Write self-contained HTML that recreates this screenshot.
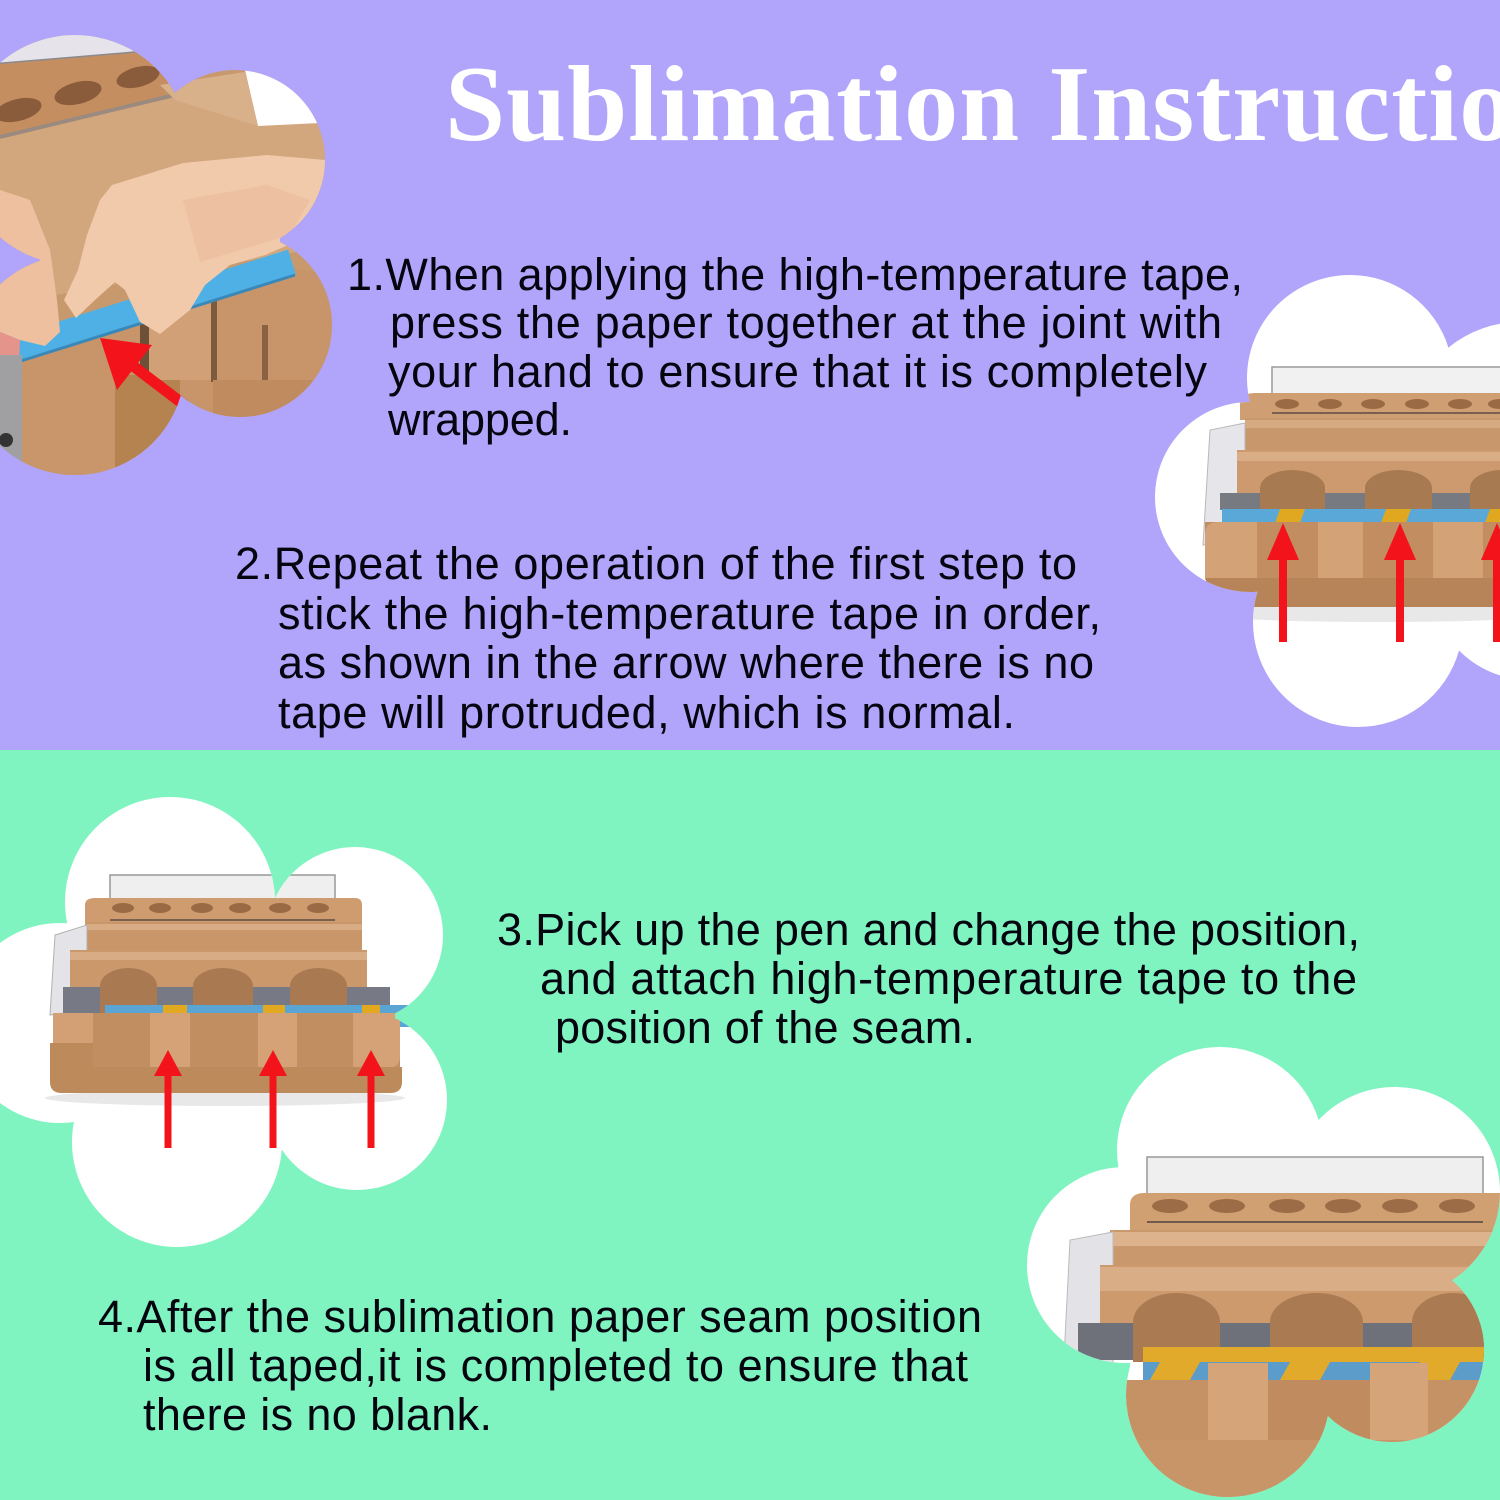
<!DOCTYPE html>
<html><head><meta charset="utf-8"><style>
html,body{margin:0;padding:0;width:1500px;height:1500px;overflow:hidden;background:#b1a4fb;}
svg{display:block}
.t{font-family:"Liberation Sans",Arial,sans-serif;font-size:45px;fill:#05050f;}
.title{font-family:"Liberation Serif","Times New Roman",serif;font-weight:bold;font-size:108px;fill:#ffffff;letter-spacing:1px;}
</style></head><body>
<svg width="1500" height="1500" viewBox="0 0 1500 1500" xmlns="http://www.w3.org/2000/svg">
<defs>
  <clipPath id="c1">
    <circle cx="75" cy="150" r="115"/>
    <circle cx="235" cy="160" r="90"/>
    <circle cx="240" cy="325" r="92"/>
    <circle cx="75" cy="365" r="110"/>
    <rect x="40" y="140" width="240" height="250"/>
  </clipPath>
  <clipPath id="c2">
    <circle cx="1350" cy="378" r="103"/>
    <circle cx="1520" cy="435" r="113"/>
    <circle cx="1250" cy="497" r="95"/>
    <circle cx="1358" cy="622" r="105"/>
    <circle cx="1530" cy="580" r="100"/>
    <rect x="1260" y="400" width="240" height="215"/>
  </clipPath>
  <clipPath id="c3">
    <circle cx="170" cy="902" r="105"/>
    <circle cx="355" cy="935" r="88"/>
    <circle cx="60" cy="1023" r="100"/>
    <circle cx="177" cy="1142" r="105"/>
    <circle cx="357" cy="1100" r="90"/>
    <rect x="75" y="930" width="320" height="200"/>
  </clipPath>
  <clipPath id="c4">
    <circle cx="1220" cy="1150" r="103"/>
    <circle cx="1395" cy="1192" r="105"/>
    <circle cx="1125" cy="1265" r="98"/>
    <circle cx="1228" cy="1395" r="102"/>
    <circle cx="1392" cy="1350" r="92"/>
    <rect x="1130" y="1190" width="265" height="205"/>
  </clipPath>
</defs>

<!-- backgrounds -->
<rect x="0" y="0" width="1500" height="750" fill="#b1a4fb"/>
<rect x="0" y="750" width="1500" height="750" fill="#80f4c0"/>

<!-- title -->
<text class="title" x="445" y="140">Sublimation Instructions</text>

<!-- ============ Cloud 1 (hands photo) ============ -->
<g clip-path="url(#c1)">
  <rect x="-50" y="20" width="400" height="470" fill="#c9996e"/>
  <polygon points="0,20 175,20 168,50 0,64" fill="#e6e4ea"/>
  <line x1="0" y1="64" x2="168" y2="50" stroke="#8a8a90" stroke-width="3"/>
  <polygon points="0,64 168,50 175,95 0,137" fill="#c48e61"/>
  <g fill="#8a5c3c">
    <ellipse cx="18" cy="110" rx="24" ry="11" transform="rotate(-14 18 110)"/>
    <ellipse cx="78" cy="93" rx="24" ry="11" transform="rotate(-14 78 93)"/>
    <ellipse cx="138" cy="77" rx="22" ry="10" transform="rotate(-14 138 77)"/>
  </g>
  <line x1="0" y1="137" x2="175" y2="95" stroke="#9a8a80" stroke-width="4"/>
  <polygon points="0,139 175,97 330,118 335,245 0,305" fill="#d3a77d"/>
  <polygon points="245,70 340,70 340,122 258,126" fill="#ffffff"/>
  <polygon points="160,85 245,72 258,126 175,100" fill="#d8b08a"/>
  <polygon points="0,360 290,268 340,275 340,490 0,490" fill="#c8956a"/>
  <rect x="113" y="375" width="67" height="110" fill="#b5834f"/>
  <rect x="147" y="290" width="66" height="90" fill="#d2a077"/>
  <rect x="140" y="292" width="9" height="85" fill="#6e5038"/>
  <rect x="211" y="300" width="6" height="82" fill="#7e5a3c"/>
  <rect x="262" y="325" width="6" height="58" fill="#8a6242"/>
  <rect x="213" y="380" width="130" height="100" fill="#c08b5e"/>
  <rect x="0" y="380" width="115" height="100" fill="#c9966b"/>
  <line x1="5" y1="352" x2="292" y2="262" stroke="#4fb0e6" stroke-width="26"/>
  <line x1="8" y1="365" x2="295" y2="275" stroke="#3a88b8" stroke-width="3"/>
  <polygon points="0,190 30,200 50,250 57,300 60,332 45,346 20,340 0,332" fill="#eec0a0"/>
  <polygon points="0,332 20,340 18,385 0,392" fill="#e4948a"/>
  <polygon points="100,200 112,185 183,163 267,155 325,160 325,210 300,240 265,255 230,265 205,285 190,310 160,334 140,322 125,290 115,282 95,300 76,318 64,300 78,270 87,235" fill="#f1caac"/>
  <polygon points="183,200 267,185 310,200 290,235 240,250 200,262" fill="#ecc0a0"/>
  <rect x="0" y="355" width="22" height="110" fill="#a0a0a2"/>
  <circle cx="6" cy="440" r="7" fill="#333"/>
  <line x1="250" y1="455" x2="128" y2="362" stroke="#f2141a" stroke-width="11"/>
  <polygon points="100,338 117,390 152,345" fill="#f2141a"/>
</g>

<!-- ============ Cloud 2 ============ -->
<g clip-path="url(#c2)">
  <rect x="1100" y="260" width="400" height="480" fill="#ffffff"/>
  <ellipse cx="1380" cy="612" rx="190" ry="10" fill="#e8e8e8"/>
  <rect x="1272" y="367" width="240" height="46" fill="#f1f1f1" stroke="#9a9a9a" stroke-width="1.5"/>
  <path d="M1240,420 L1240,405 Q1240,393 1255,393 L1500,393 L1500,420 Z" fill="#cf9e73"/>
  <g fill="#9a6a45">
    <ellipse cx="1287" cy="404" rx="12" ry="5"/>
    <ellipse cx="1330" cy="404" rx="12" ry="5"/>
    <ellipse cx="1373" cy="404" rx="12" ry="5"/>
    <ellipse cx="1417" cy="404" rx="12" ry="5"/>
    <ellipse cx="1460" cy="404" rx="12" ry="5"/>
    <ellipse cx="1500" cy="404" rx="12" ry="5"/>
  </g>
  <line x1="1272" y1="413" x2="1500" y2="413" stroke="#7a6050" stroke-width="2"/>
  <rect x="1245" y="418" width="255" height="32" fill="#c8976b"/>
  <rect x="1245" y="420" width="255" height="8" fill="#d6ab83"/>
  <polygon points="1203,545 1210,430 1245,423 1245,540" fill="#e6e6ea" stroke="#b8b8bc" stroke-width="1"/>
  <rect x="1237" y="450" width="263" height="60" fill="#cc9a6e"/>
  <rect x="1237" y="452" width="263" height="9" fill="#d9ae86"/>
  <rect x="1220" y="493" width="280" height="17" fill="#787a82"/>
  <g fill="#a87a51">
    <path d="M1260,510 L1260,488 A32.5,18 0 0 1 1325,488 L1325,510 Z"/>
    <path d="M1365,510 L1365,488 A33.5,18 0 0 1 1432,488 L1432,510 Z"/>
    <path d="M1470,510 L1470,488 A32,18 0 0 1 1534,488 L1534,510 Z"/>
  </g>
  <rect x="1222" y="509" width="278" height="14" fill="#5aa8d8"/>
  <polygon points="1280,509 1305,509 1300,523 1275,523" fill="#e0a820"/>
  <polygon points="1386,509 1411,509 1406,523 1381,523" fill="#e0a820"/>
  <polygon points="1490,509 1510,509 1505,523 1485,523" fill="#e0a820"/>
  <rect x="1205" y="522" width="295" height="58" fill="#c18d61"/>
  <path d="M1205,580 L1205,535 Q1205,522 1218,522 L1257,522 L1257,580 Z" fill="#d3a276"/>
  <rect x="1318" y="522" width="45" height="58" fill="#d3a276"/>
  <rect x="1433" y="522" width="50" height="58" fill="#d3a276"/>
  <path d="M1206,578 L1500,578 L1500,607 L1222,607 Q1208,607 1206,595 Z" fill="#b7845a"/>
  <g fill="#f2141a">
    <rect x="1279" y="555" width="8" height="87"/>
    <polygon points="1283,523 1267,560 1299,560"/>
    <rect x="1396" y="555" width="8" height="87"/>
    <polygon points="1400,523 1384,560 1416,560"/>
    <rect x="1493" y="555" width="8" height="87"/>
    <polygon points="1497,523 1481,560 1513,560"/>
  </g>
</g>

<!-- ============ Cloud 3 ============ -->
<g clip-path="url(#c3)">
  <rect x="-50" y="780" width="520" height="480" fill="#ffffff"/>
  <ellipse cx="225" cy="1098" rx="180" ry="8" fill="#e8e8e8"/>
  <rect x="110" y="875" width="225" height="45" fill="#efefef" stroke="#999" stroke-width="1.5"/>
  <path d="M85,925 L85,905 Q85,898 95,898 L355,898 Q362,898 362,905 L362,925 Z" fill="#cf9c6f"/>
  <g fill="#9a6a45">
    <ellipse cx="123" cy="908" rx="11" ry="5"/>
    <ellipse cx="160" cy="908" rx="11" ry="5"/>
    <ellipse cx="202" cy="908" rx="11" ry="5"/>
    <ellipse cx="240" cy="908" rx="11" ry="5"/>
    <ellipse cx="280" cy="908" rx="11" ry="5"/>
    <ellipse cx="318" cy="908" rx="11" ry="5"/>
  </g>
  <line x1="110" y1="920" x2="335" y2="920" stroke="#7a6050" stroke-width="2"/>
  <rect x="87" y="922" width="275" height="28" fill="#c99669"/>
  <rect x="87" y="924" width="275" height="6" fill="#d8ad85"/>
  <polygon points="50,1015 55,935 87,925 87,1010" fill="#e4e4e8" stroke="#b0b0b0" stroke-width="1"/>
  <rect x="70" y="950" width="297" height="63" fill="#cb986b"/>
  <rect x="70" y="952" width="297" height="8" fill="#d8ad85"/>
  <rect x="63" y="987" width="327" height="26" fill="#777a84"/>
  <g fill="#a97a52">
    <path d="M100,1013 L100,986 A28.5,18 0 0 1 157,986 L157,1013 Z"/>
    <path d="M193,1013 L193,986 A30,18 0 0 1 253,986 L253,1013 Z"/>
    <path d="M290,1013 L290,986 A28.5,18 0 0 1 347,986 L347,1013 Z"/>
  </g>
  <polygon points="105,1005 420,1005 410,1016 420,1027 105,1027" fill="#5aa5d4"/>
  <rect x="163" y="1005" width="24" height="8" fill="#e2a820"/>
  <rect x="263" y="1005" width="22" height="8" fill="#e2a820"/>
  <rect x="362" y="1005" width="18" height="8" fill="#e2a820"/>
  <rect x="53" y="1013" width="347" height="57" fill="#c18e62"/>
  <rect x="53" y="1013" width="40" height="30" fill="#d2a074"/>
  <rect x="150" y="1013" width="40" height="55" fill="#d4a276"/>
  <rect x="258" y="1013" width="39" height="55" fill="#d4a276"/>
  <path d="M353,1013 L400,1013 L400,1055 Q400,1068 388,1068 L353,1068 Z" fill="#d4a276"/>
  <path d="M50,1043 L93,1043 L93,1067 L402,1067 L402,1082 Q402,1093 390,1093 L62,1093 Q50,1093 50,1082 Z" fill="#bd8a5c"/>
  <g fill="#f2141a">
    <rect x="164.5" y="1072" width="7" height="76"/>
    <polygon points="168,1050 154,1076 182,1076"/>
    <rect x="269.5" y="1072" width="7" height="76"/>
    <polygon points="273,1050 259,1076 287,1076"/>
    <rect x="367.5" y="1072" width="7" height="76"/>
    <polygon points="371,1050 357,1076 385,1076"/>
  </g>
</g>

<!-- ============ Cloud 4 ============ -->
<g clip-path="url(#c4)">
  <rect x="1000" y="1030" width="520" height="480" fill="#ffffff"/>
  <rect x="1147" y="1157" width="336" height="65" fill="#efefef" stroke="#999" stroke-width="1.5"/>
  <path d="M1130,1232 L1130,1205 Q1130,1193 1145,1193 L1500,1193 L1500,1232 Z" fill="#d0a073"/>
  <g fill="#9c6c46">
    <ellipse cx="1170" cy="1206" rx="18" ry="7"/>
    <ellipse cx="1227" cy="1206" rx="18" ry="7"/>
    <ellipse cx="1287" cy="1206" rx="18" ry="7"/>
    <ellipse cx="1343" cy="1206" rx="18" ry="7"/>
    <ellipse cx="1400" cy="1206" rx="18" ry="7"/>
    <ellipse cx="1457" cy="1206" rx="18" ry="7"/>
  </g>
  <line x1="1147" y1="1222" x2="1483" y2="1222" stroke="#6f5a4c" stroke-width="2"/>
  <rect x="1110" y="1230" width="390" height="37" fill="#c9996d"/>
  <rect x="1110" y="1232" width="390" height="14" fill="#dcb38c"/>
  <polygon points="1063,1378 1070,1240 1113,1232 1113,1380" fill="#e3e3e7" stroke="#bbb" stroke-width="1"/>
  <rect x="1100" y="1265" width="400" height="95" fill="#cc9a6d"/>
  <rect x="1100" y="1267" width="400" height="24" fill="#d9ae86"/>
  <rect x="1078" y="1323" width="422" height="37" fill="#6f717a"/>
  <g fill="#aa7b52">
    <path d="M1133,1362 L1133,1322 A43.5,29 0 0 1 1220,1322 L1220,1362 Z"/>
    <path d="M1270,1362 L1270,1322 A46.5,29 0 0 1 1363,1322 L1363,1362 Z"/>
    <path d="M1412,1362 L1412,1322 A41,29 0 0 1 1494,1322 L1494,1362 Z"/>
  </g>
  <rect x="1143" y="1347" width="357" height="15" fill="#e2aa2a"/>
  <rect x="1143" y="1362" width="357" height="18" fill="#5b9ccb"/>
  <g fill="#e2aa2a">
    <polygon points="1160,1362 1200,1362 1190,1380 1150,1380"/>
    <polygon points="1290,1362 1330,1362 1320,1380 1280,1380"/>
    <polygon points="1420,1362 1460,1362 1450,1380 1410,1380"/>
  </g>
  <rect x="1080" y="1380" width="420" height="130" fill="#c59265"/>
  <rect x="1268" y="1380" width="102" height="60" fill="#bf8b5f"/>
  <rect x="1208" y="1363" width="60" height="77" fill="#d5a478"/>
  <rect x="1370" y="1363" width="58" height="77" fill="#d5a478"/>
  <rect x="1080" y="1440" width="420" height="70" fill="#c89568"/>
</g>

<!-- ============ Text ============ -->
<text class="t" x="347" y="290" textLength="896" lengthAdjust="spacing">1.When applying the high-temperature tape,</text>
<text class="t" x="390" y="338" textLength="832" lengthAdjust="spacing">press the paper together at the joint with</text>
<text class="t" x="388" y="387" textLength="819" lengthAdjust="spacing">your hand to ensure that it is completely</text>
<text class="t" x="388" y="435" textLength="184" lengthAdjust="spacing">wrapped.</text>

<text class="t" x="235" y="579" textLength="842" lengthAdjust="spacing">2.Repeat the operation of the first step to</text>
<text class="t" x="278" y="629" textLength="823" lengthAdjust="spacing">stick the high-temperature tape in order,</text>
<text class="t" x="278" y="678" textLength="816" lengthAdjust="spacing">as shown in the arrow where there is no</text>
<text class="t" x="278" y="728" textLength="737" lengthAdjust="spacing">tape will protruded, which is normal.</text>

<text class="t" x="497" y="945" textLength="863" lengthAdjust="spacing">3.Pick up the pen and change the position,</text>
<text class="t" x="540" y="994" textLength="817" lengthAdjust="spacing">and attach high-temperature tape to the</text>
<text class="t" x="555" y="1043" textLength="420" lengthAdjust="spacing">position of the seam.</text>

<text class="t" x="98" y="1332" textLength="884" lengthAdjust="spacing">4.After the sublimation paper seam position</text>
<text class="t" x="143" y="1381" textLength="825" lengthAdjust="spacing">is all taped,it is completed to ensure that</text>
<text class="t" x="143" y="1430" textLength="349" lengthAdjust="spacing">there is no blank.</text>
</svg>
</body></html>
